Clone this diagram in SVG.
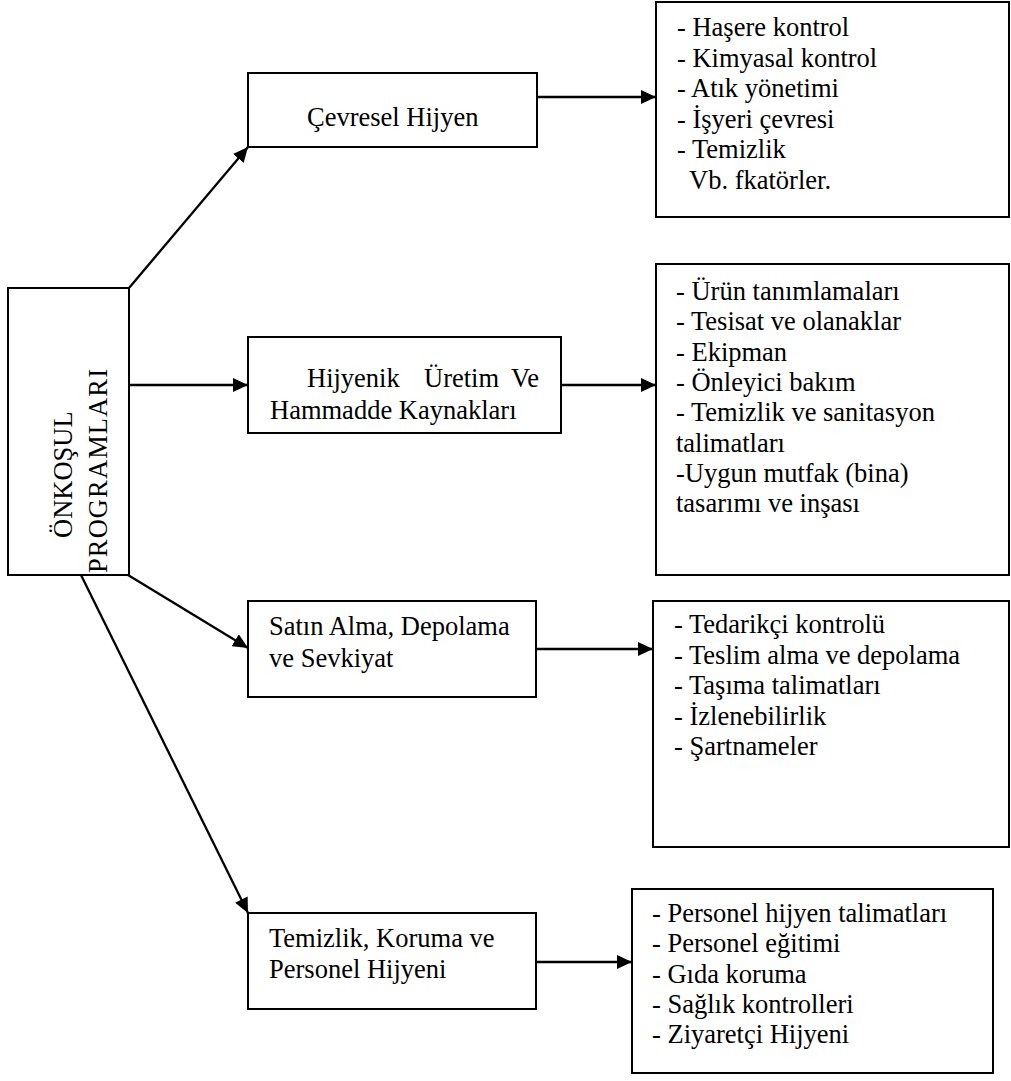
<svg xmlns="http://www.w3.org/2000/svg" width="1011" height="1081" viewBox="0 0 1011 1081">
<style>
.box{fill:#fff;stroke:#000;stroke-width:2}
.t{font-family:"Liberation Serif","Times New Roman",serif;font-size:26.5px;fill:#000}
.c{stroke:#000;stroke-width:2.3;fill:none;marker-end:url(#ah)}
</style>
<defs>
<marker id="ah" markerUnits="userSpaceOnUse" markerWidth="16" markerHeight="14" refX="15" refY="7" orient="auto">
<path d="M0,0 L15,7 L0,14 Z" fill="#000"/>
</marker>
</defs>
<rect width="1011" height="1081" fill="#fff"/>
<g id="connectors">
<line class="c" x1="129" y1="288" x2="248" y2="147"/>
<line class="c" x1="129" y1="385" x2="248" y2="385"/>
<line class="c" x1="128" y1="575" x2="248" y2="648"/>
<line class="c" x1="81" y1="575" x2="248" y2="913"/>
<line class="c" x1="537" y1="97" x2="656" y2="97"/>
<line class="c" x1="561" y1="385" x2="656" y2="385"/>
<line class="c" x1="536" y1="649" x2="653" y2="649"/>
<line class="c" x1="536" y1="962" x2="632" y2="962"/>
</g>
<g id="onkosul">
<rect class="box" x="8" y="288" width="121" height="287"/>
<text class="t" transform="translate(72,538) rotate(-90)">ÖNKOŞUL</text>
<text class="t" transform="translate(107,573) rotate(-90)" textLength="204" lengthAdjust="spacing">PROGRAMLARI</text>
</g>
<g id="cevresel">
<rect class="box" x="248" y="73" width="289" height="74"/>
<text class="t" x="307" y="126">Çevresel Hijyen</text>
</g>
<g id="hijyenik">
<rect class="box" x="248" y="337" width="313" height="96"/>
<text class="t" y="387"><tspan x="307">Hijyenik</tspan><tspan x="424">Üretim</tspan><tspan x="511">Ve</tspan></text>
<text class="t" x="270" y="419">Hammadde Kaynakları</text>
</g>
<g id="satin">
<rect class="box" x="248" y="601" width="288" height="96"/>
<text class="t" x="269" y="635">Satın Alma, Depolama</text>
<text class="t" x="269" y="667">ve Sevkiyat</text>
</g>
<g id="temizlik">
<rect class="box" x="248" y="913" width="288" height="96"/>
<text class="t" x="269" y="947">Temizlik, Koruma ve</text>
<text class="t" x="269" y="978">Personel Hijyeni</text>
</g>
<g id="cevresel-list">
<rect class="box" x="656" y="2" width="353" height="215"/>
<text class="t" x="677" y="36">- Haşere kontrol</text>
<text class="t" x="677" y="66.6">- Kimyasal kontrol</text>
<text class="t" x="677" y="97.2">- Atık yönetimi</text>
<text class="t" x="677" y="127.8">- İşyeri çevresi</text>
<text class="t" x="677" y="158.4">- Temizlik</text>
<text class="t" x="689" y="189">Vb. fkatörler.</text>
</g>
<g id="hijyenik-list">
<rect class="box" x="656" y="264" width="353" height="311"/>
<text class="t" x="676" y="300">- Ürün tanımlamaları</text>
<text class="t" x="676" y="330.3">- Tesisat ve olanaklar</text>
<text class="t" x="676" y="360.6">- Ekipman</text>
<text class="t" x="676" y="391">- Önleyici bakım</text>
<text class="t" x="676" y="421">- Temizlik ve sanitasyon</text>
<text class="t" x="676" y="451.5">talimatları</text>
<text class="t" x="676" y="482">-Uygun mutfak (bina)</text>
<text class="t" x="676" y="512">tasarımı ve inşası</text>
</g>
<g id="satin-list">
<rect class="box" x="653" y="601" width="356" height="246"/>
<text class="t" x="674" y="633">- Tedarikçi kontrolü</text>
<text class="t" x="674" y="663.5">- Teslim alma ve depolama</text>
<text class="t" x="674" y="694">- Taşıma talimatları</text>
<text class="t" x="674" y="724.5">- İzlenebilirlik</text>
<text class="t" x="674" y="755">- Şartnameler</text>
</g>
<g id="temizlik-list">
<rect class="box" x="632" y="889" width="361" height="184"/>
<text class="t" x="652" y="922">- Personel hijyen talimatları</text>
<text class="t" x="652" y="952.3">- Personel eğitimi</text>
<text class="t" x="652" y="982.6">- Gıda koruma</text>
<text class="t" x="652" y="1013">- Sağlık kontrolleri</text>
<text class="t" x="652" y="1043">- Ziyaretçi Hijyeni</text>
</g>
</svg>
